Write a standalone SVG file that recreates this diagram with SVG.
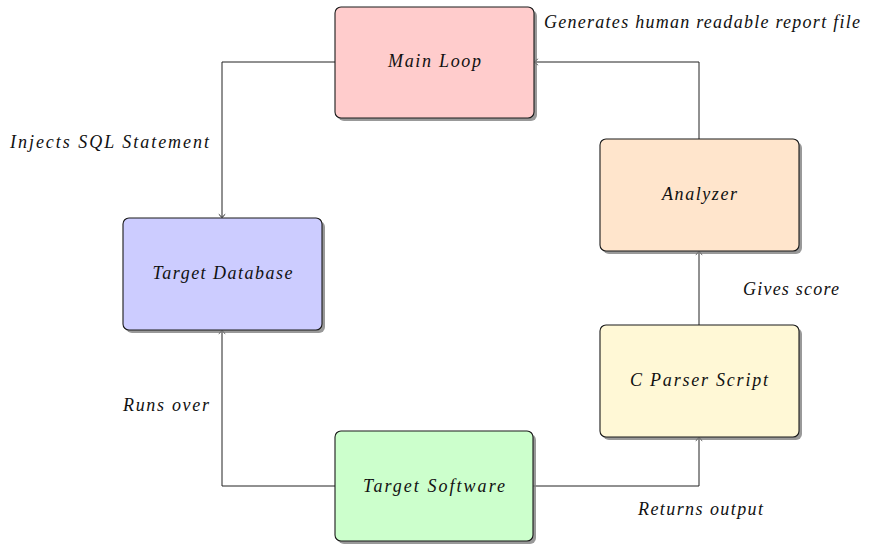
<svg xmlns="http://www.w3.org/2000/svg" width="880" height="544" viewBox="0 0 880 544">
<style>
.box{stroke:#1a1a1a;stroke-width:1.1}
.sh{fill:#808080;opacity:0.8}
.lbl{font-family:"Liberation Serif",serif;font-style:italic;font-size:18px;fill:#111}
.mid{text-anchor:middle}
.conn{fill:none;stroke:#222;stroke-width:1}
</style>
<defs>
<marker id="arr" markerUnits="userSpaceOnUse" markerWidth="10" markerHeight="10" refX="0" refY="0" viewBox="-5 -5 10 10" orient="auto" overflow="visible">
<path d="M-3.2,-3.2 Q-0.8,-0.6 0,0 Q-0.8,0.6 -3.2,3.2" fill="none" stroke="#222" stroke-width="1"/>
</marker>
<filter id="blur" x="-10%" y="-10%" width="120%" height="120%"><feGaussianBlur stdDeviation="0.7"/></filter>
</defs>
<g id="connectors">
<path class="conn" d="M335,62 H222 V217.5" marker-end="url(#arr)"/>
<path class="conn" d="M699,139 V62 H534.5" marker-end="url(#arr)"/>
<path class="conn" d="M699,325 V251.5" marker-end="url(#arr)"/>
<path class="conn" d="M533,486 H699 V437.5" marker-end="url(#arr)"/>
<path class="conn" d="M335,486 H222 V330.5" marker-end="url(#arr)"/>
</g>
<g id="main-loop">
<rect class="sh" x="338" y="10" width="199" height="111" rx="6" filter="url(#blur)"/>
<rect class="box" x="335" y="7" width="199" height="111" rx="6" fill="#FFCCCC"/>
<text class="lbl mid" x="434.5" y="67" textLength="93" lengthAdjust="spacing">Main Loop</text>
</g>
<g id="target-database">
<rect class="sh" x="126" y="221" width="199" height="112" rx="6" filter="url(#blur)"/>
<rect class="box" x="123" y="218" width="199" height="112" rx="6" fill="#CCCCFF"/>
<text class="lbl mid" x="222.5" y="279" textLength="140" lengthAdjust="spacing">Target Database</text>
</g>
<g id="target-software">
<rect class="sh" x="338" y="434" width="198" height="110" rx="6" filter="url(#blur)"/>
<rect class="box" x="335" y="431" width="198" height="110" rx="6" fill="#CCFFCC"/>
<text class="lbl mid" x="434" y="492" textLength="142" lengthAdjust="spacing">Target Software</text>
</g>
<g id="analyzer">
<rect class="sh" x="603" y="142" width="199" height="112" rx="6" filter="url(#blur)"/>
<rect class="box" x="600" y="139" width="199" height="112" rx="6" fill="#FFE5CC"/>
<text class="lbl mid" x="699.5" y="200" textLength="75" lengthAdjust="spacing">Analyzer</text>
</g>
<g id="c-parser-script">
<rect class="sh" x="603" y="328" width="199" height="112" rx="6" filter="url(#blur)"/>
<rect class="box" x="600" y="325" width="199" height="112" rx="6" fill="#FFF8D6"/>
<text class="lbl mid" x="699" y="386" textLength="138" lengthAdjust="spacing">C Parser Script</text>
</g>
<g id="labels">
<text class="lbl" x="544" y="28" textLength="316" lengthAdjust="spacing">Generates human readable report file</text>
<text class="lbl" x="10" y="148" textLength="199" lengthAdjust="spacing">Injects SQL Statement</text>
<text class="lbl" x="743" y="295" textLength="96" lengthAdjust="spacing">Gives score</text>
<text class="lbl" x="123" y="411" textLength="86" lengthAdjust="spacing">Runs over</text>
<text class="lbl" x="638" y="515" textLength="125" lengthAdjust="spacing">Returns output</text>
</g>
</svg>
